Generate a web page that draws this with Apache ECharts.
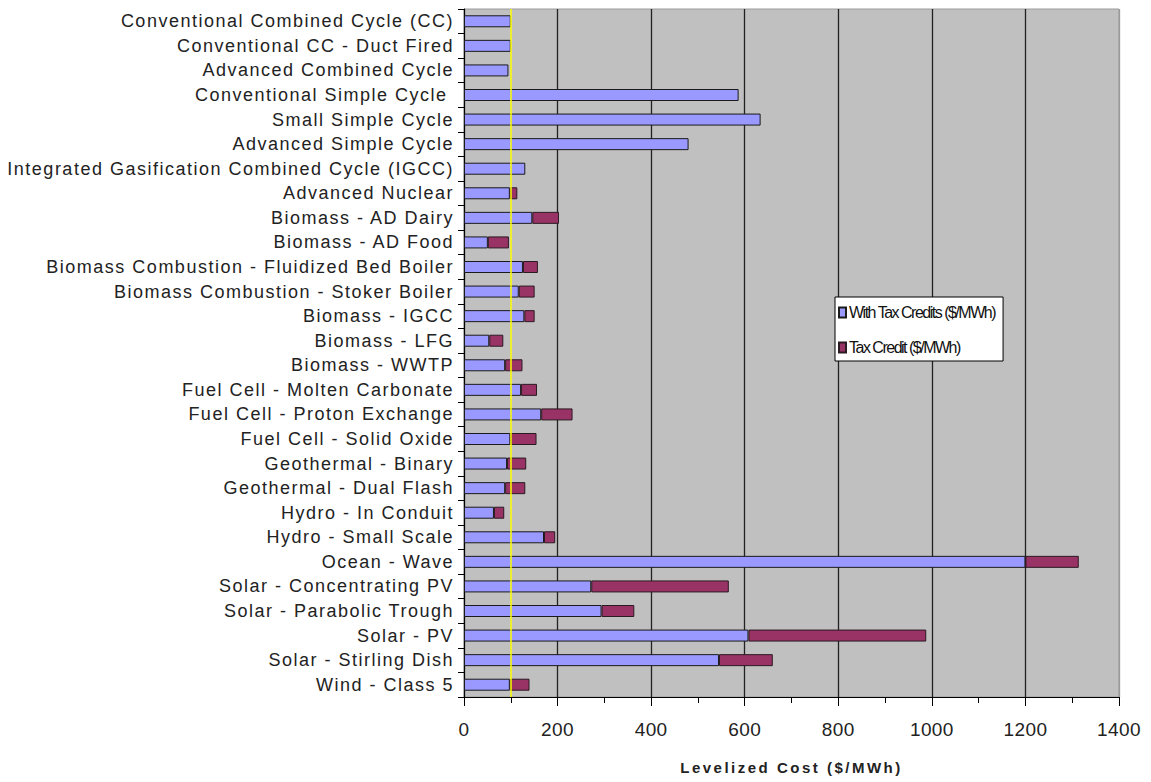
<!DOCTYPE html>
<html>
<head>
<meta charset="utf-8">
<title>Levelized Cost by Technology</title>
<script src="https://cdn.jsdelivr.net/npm/echarts@6/dist/echarts.min.js"></script>
<style>
  html, body { margin: 0; padding: 0; background: #ffffff; }
  #chart { width: 1151px; height: 782px; }
  /* spaced-out lettering for axis text, tall tight lettering for the legend */
  #chart text { letter-spacing: 1.5px; }
  #chart text[style*="19px"] { letter-spacing: 0.4px; }
  #chart text[style*="bold"] { letter-spacing: 2.5px; }
  #chart text[style*="13px"] { font-size: 16px !important; letter-spacing: -1.5px; }
</style>
</head>
<body>
<div id="chart"></div>
<script>
// Technologies, top to bottom
const categories = [
  'Conventional Combined Cycle (CC)',
  'Conventional CC - Duct Fired',
  'Advanced Combined Cycle',
  'Conventional Simple Cycle ',
  'Small Simple Cycle',
  'Advanced Simple Cycle',
  'Integrated Gasification Combined Cycle (IGCC)',
  'Advanced Nuclear',
  'Biomass - AD Dairy',
  'Biomass - AD Food',
  'Biomass Combustion - Fluidized Bed Boiler',
  'Biomass Combustion - Stoker Boiler',
  'Biomass - IGCC',
  'Biomass - LFG',
  'Biomass - WWTP',
  'Fuel Cell - Molten Carbonate',
  'Fuel Cell - Proton Exchange',
  'Fuel Cell - Solid Oxide',
  'Geothermal - Binary',
  'Geothermal - Dual Flash',
  'Hydro - In Conduit',
  'Hydro - Small Scale',
  'Ocean - Wave',
  'Solar - Concentrating PV',
  'Solar - Parabolic Trough',
  'Solar - PV',
  'Solar - Stirling Dish',
  'Wind - Class 5'
];

// Levelized cost with tax credits applied ($/MWh)
const withTaxCredits = [100, 100, 95, 587, 634, 480, 131, 98, 146, 51, 126, 117, 129, 54,
  88, 122, 165, 99, 92, 88, 64, 171, 1200, 272, 294, 608, 545, 98];

// Value of the tax credit ($/MWh), stacked on top
const taxCredit = [0, 0, 0, 0, 0, 0, 0, 16, 57, 45, 32, 34, 22, 30,
  37, 34, 67, 56, 41, 43, 22, 24, 114, 294, 70, 380, 115, 42];

// Reference cost marked by the vertical line ($/MWh)
const referenceCost = 100;

const xTicks = { min: 0, max: 1400, interval: 200 };

const seriesNames = ['With Tax Credits ($/MWh)', 'Tax Credit ($/MWh)'];

const chart = echarts.init(document.getElementById('chart'), null, { renderer: 'svg' });

const labelFont = 'Liberation Sans, Arial, sans-serif';

chart.setOption({
  animation: false,
  backgroundColor: '#ffffff',
  grid: {
    left: 464, right: 32, top: 9, bottom: 85,
    show: true,
    backgroundColor: '#C0C0C0',
    borderColor: '#9a9a9a',
    borderWidth: 1
  },
  legend: {
    orient: 'vertical',
    left: 835,
    top: 297,
    backgroundColor: '#ffffff',
    borderColor: '#000000',
    borderWidth: 1,
    borderRadius: 0,
    padding: [9, 6, 7, 3],
    itemGap: 22,
    itemWidth: 7,
    itemHeight: 10,
    icon: 'rect',
    selectedMode: false,
    textStyle: {
      fontFamily: labelFont,
      fontSize: 13,
      color: '#111111',
      padding: [0, 0, 0, -2]
    },
    data: seriesNames
  },
  xAxis: {
    type: 'value',
    min: xTicks.min,
    max: xTicks.max,
    interval: xTicks.interval,
    name: 'Levelized Cost ($/MWh)',
    nameLocation: 'middle',
    nameGap: 63,
    nameTextStyle: {
      fontFamily: labelFont,
      fontSize: 15,
      fontWeight: 'bold',
      color: '#222222'
    },
    axisLine: { show: true, lineStyle: { color: '#000000', width: 1 } },
    axisTick: { show: true, length: 9, lineStyle: { color: '#000000' } },
    minorTick: { show: true, splitNumber: 2, length: 6, lineStyle: { color: '#000000' } },
    axisLabel: {
      margin: 23,
      fontFamily: labelFont,
      fontSize: 19,
      color: '#222222',
      formatter: v => String(v)
    },
    splitLine: {
      show: true,
      lineStyle: {
        color: ['#222222', '#222222', '#222222', '#222222', '#222222', '#222222', '#222222', '#9a9a9a'],
        width: 1.3
      }
    }
  },
  yAxis: {
    type: 'category',
    data: categories,
    inverse: true,
    axisLine: { show: true, lineStyle: { color: '#000000', width: 1 } },
    axisTick: { show: true, length: 6, lineStyle: { color: '#000000' } },
    axisLabel: {
      margin: 10,
      fontFamily: labelFont,
      fontSize: 18,
      color: '#222222'
    },
    splitLine: { show: false }
  },
  series: [
    {
      name: seriesNames[0],
      type: 'bar',
      stack: 'cost',
      barWidth: 12,
      data: withTaxCredits,
      itemStyle: { color: '#9999FF', borderColor: '#1a1a1a', borderWidth: 1 },
      markLine: {
        silent: true,
        symbol: 'none',
        label: { show: false },
        lineStyle: { color: '#FFFF00', width: 1.5, type: 'solid' },
        data: [{ xAxis: referenceCost }]
      }
    },
    {
      name: seriesNames[1],
      type: 'bar',
      stack: 'cost',
      barWidth: 12,
      data: taxCredit.map(v => (v > 0 ? v : '-')),
      itemStyle: { color: '#993366', borderColor: '#2a1a22', borderWidth: 1 }
    }
  ]
});
</script>
</body>
</html>
